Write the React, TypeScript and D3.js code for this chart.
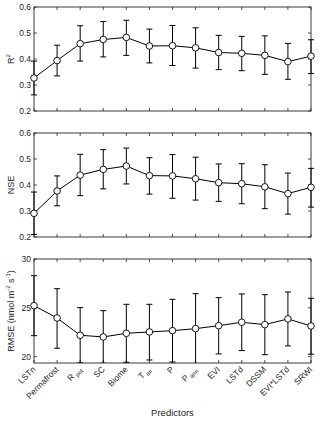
import React, { useEffect, useRef } from "react";
import * as d3 from "d3";

const predictors = ["LSTn", "Permafrost", "R|pot", "SC", "Biome", "T|air", "P", "P|ann", "EVI", "LSTd", "DSSM", "EVI*LSTd", "SRWI"];

const r2Mean = [0.327, 0.394, 0.459, 0.475, 0.483, 0.45, 0.451, 0.443, 0.425, 0.422, 0.414, 0.39, 0.411];
const r2Upper = [0.392, 0.453, 0.528, 0.544, 0.549, 0.515, 0.529, 0.52, 0.491, 0.487, 0.489, 0.46, 0.474];
const r2Lower = [0.262, 0.335, 0.392, 0.408, 0.414, 0.385, 0.375, 0.365, 0.359, 0.355, 0.341, 0.322, 0.344];

const nseMean = [0.291, 0.377, 0.438, 0.46, 0.473, 0.436, 0.435, 0.424, 0.409, 0.405, 0.393, 0.367, 0.391];
const nseUpper = [0.373, 0.435, 0.518, 0.536, 0.542, 0.505, 0.517, 0.507, 0.481, 0.482, 0.478, 0.446, 0.464];
const nseLower = [0.21, 0.32, 0.359, 0.385, 0.404, 0.365, 0.349, 0.342, 0.337, 0.328, 0.309, 0.288, 0.315];

const rmseMean = [25.22, 23.96, 22.19, 22.02, 22.39, 22.53, 22.66, 22.87, 23.17, 23.52, 23.28, 23.86, 23.14];
const rmseUpper = [28.29, 26.96, 25.02, 24.71, 25.36, 25.36, 25.87, 26.45, 26.04, 26.42, 26.35, 26.62, 25.98];
const rmseLower = [22.15, 20.86, 19.36, 19.33, 19.42, 19.66, 19.45, 19.29, 20.28, 20.62, 20.2, 21.1, 20.25];

const r2Ticks = [0.2, 0.3, 0.4, 0.5, 0.6];
const nseTicks = [0.2, 0.3, 0.4, 0.5, 0.6];
const rmseTicks = [20, 25, 30];

const App = () => {
  const chartRef = useRef<SVGSVGElement>(null);

  useEffect(() => {
    const svg = d3.select(chartRef.current);
    svg.selectAll("*").remove();

    const left = 34;
    const right = 311;
    const panelH = 104;
    const ink = "#262626";
    const font = "Liberation Sans, Arial, sans-serif";

    const x = d3.scaleLinear().domain([0, predictors.length - 1]).range([left, right]);

    const panels = [
      { top: 7, domain: [0.2, 0.6], ticks: r2Ticks, mean: r2Mean, up: r2Upper, lo: r2Lower, label: "R2", fmt: d3.format(".1f") },
      { top: 133, domain: [0.2, 0.6], ticks: nseTicks, mean: nseMean, up: nseUpper, lo: nseLower, label: "NSE", fmt: d3.format(".1f") },
      { top: 259, domain: [19.35, 30], ticks: rmseTicks, mean: rmseMean, up: rmseUpper, lo: rmseLower, label: "RMSE", fmt: d3.format("d") },
    ];

    panels.forEach((p, pi) => {
      const y = d3.scaleLinear().domain(p.domain).range([p.top + panelH, p.top]);
      const g = svg.append("g");

      // clip for error bars and line
      const clipId = `clip${pi}`;
      svg
        .append("clipPath")
        .attr("id", clipId)
        .append("rect")
        .attr("x", left - 4)
        .attr("y", p.top)
        .attr("width", right - left + 8)
        .attr("height", panelH);

      // ticks, all sides, inward
      predictors.forEach((_, i) => {
        g.append("line")
          .attr("x1", x(i)).attr("x2", x(i))
          .attr("y1", p.top + panelH).attr("y2", p.top + panelH - 3)
          .attr("stroke", ink).attr("stroke-width", 0.8);
        g.append("line")
          .attr("x1", x(i)).attr("x2", x(i))
          .attr("y1", p.top).attr("y2", p.top + 3)
          .attr("stroke", ink).attr("stroke-width", 0.8);
      });
      p.ticks.forEach((t) => {
        g.append("line")
          .attr("x1", left).attr("x2", left + 3)
          .attr("y1", y(t)).attr("y2", y(t))
          .attr("stroke", ink).attr("stroke-width", 0.8);
        g.append("line")
          .attr("x1", right).attr("x2", right - 3)
          .attr("y1", y(t)).attr("y2", y(t))
          .attr("stroke", ink).attr("stroke-width", 0.8);
        g.append("text")
          .attr("x", left - 3)
          .attr("y", y(t))
          .attr("dy", "0.35em")
          .attr("text-anchor", "end")
          .attr("font-family", font)
          .attr("font-size", 8.5)
          .attr("fill", ink)
          .text(p.fmt(t));
      });

      // box
      g.append("rect")
        .attr("x", left).attr("y", p.top)
        .attr("width", right - left).attr("height", panelH)
        .attr("fill", "none").attr("stroke", ink).attr("stroke-width", 0.9);

      const data = g.append("g").attr("clip-path", `url(#${clipId})`);

      // error bars
      p.mean.forEach((_, i) => {
        const cx = x(i);
        data.append("line")
          .attr("x1", cx).attr("x2", cx)
          .attr("y1", y(p.lo[i])).attr("y2", y(p.up[i]))
          .attr("stroke", "#000").attr("stroke-width", 1);
        [p.lo[i], p.up[i]].forEach((v) => {
          data.append("line")
            .attr("x1", cx - 3).attr("x2", cx + 3)
            .attr("y1", y(v)).attr("y2", y(v))
            .attr("stroke", "#000").attr("stroke-width", 1);
        });
      });

      const line = d3
        .line<number>()
        .x((_, i) => x(i))
        .y((d) => y(d));
      data.append("path")
        .attr("d", line(p.mean))
        .attr("fill", "none")
        .attr("stroke", "#000")
        .attr("stroke-width", 1);

      g.selectAll(".dot")
        .data(p.mean)
        .enter()
        .append("circle")
        .attr("cx", (_, i) => x(i))
        .attr("cy", (d) => y(d))
        .attr("r", 3.3)
        .attr("fill", "#fff")
        .attr("stroke", "#000")
        .attr("stroke-width", 0.9);

      // y label
      const cy = p.top + panelH / 2;
      const lab = g.append("text")
        .attr("x", 14)
        .attr("y", cy)
        .attr("transform", `rotate(-90,14,${cy})`)
        .attr("text-anchor", "middle")
        .attr("font-family", font)
        .attr("font-size", 9)
        .attr("fill", ink);
      if (p.label === "R2") {
        lab.append("tspan").text("R");
        lab.append("tspan").attr("font-size", 6).attr("dy", -4).text("2");
      } else if (p.label === "RMSE") {
        lab.append("tspan").text("RMSE (nmol m");
        lab.append("tspan").attr("font-size", 6).attr("dy", -4).text("-2");
        lab.append("tspan").attr("dy", 4).text(" s");
        lab.append("tspan").attr("font-size", 6).attr("dy", -4).text("-1");
        lab.append("tspan").attr("dy", 4).text(")");
      } else {
        lab.text(p.label);
      }
    });

    // x tick labels on the bottom panel, rotated 45 degrees
    const baseY = 259 + panelH + 7;
    predictors.forEach((name, i) => {
      const [main, sub] = name.split("|");
      const tx = x(i) + 2;
      const t = svg.append("text")
        .attr("x", tx)
        .attr("y", baseY)
        .attr("transform", `rotate(-45,${tx},${baseY})`)
        .attr("text-anchor", "end")
        .attr("font-family", font)
        .attr("font-size", 8.5)
        .attr("fill", ink);
      t.append("tspan").text(main);
      if (sub) {
        t.append("tspan").attr("font-size", 6).attr("dy", 2).text(" " + sub);
      }
    });

    svg.append("text")
      .attr("x", (left + right) / 2)
      .attr("y", 416)
      .attr("text-anchor", "middle")
      .attr("font-family", font)
      .attr("font-size", 9.5)
      .attr("fill", ink)
      .text("Predictors");
  }, []);

  return (
    <svg
      ref={chartRef}
      width={320}
      height={423}
      style={{ position: "absolute", left: 0, top: 0, background: "#fff" }}
    />
  );
};

export default App;
